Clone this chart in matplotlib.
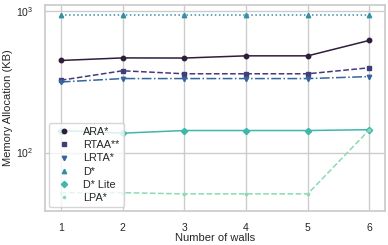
import matplotlib
matplotlib.use("Agg")
import matplotlib.pyplot as plt
from matplotlib.lines import Line2D
import seaborn as sns

walls = [1, 2, 3, 4, 5, 6]
algorithms = ["ARA*", "RTAA**", "LRTA*", "D*", "D* Lite", "LPA*"]
ara = [447, 466, 465, 482, 482, 620]
rtaa = [324, 378, 360, 360, 360, 397]
lrta = [315, 333, 333, 333, 333, 344]
dstar = [940, 940, 940, 940, 940, 940]
dlite = [143, 137, 143, 143, 143, 145]
lpa = [52, 52, 51, 51, 51, 145]

values = [ara, rtaa, lrta, dstar, dlite, lpa]
markers = ["o", "s", "v", "^", "D", "."]
linestyles = ["-", "--", "-.", ":", "-", "--"]

sns.set_theme(style="whitegrid")
plt.rcParams["font.family"] = ["Liberation Sans", "DejaVu Sans"]
colors = sns.color_palette("mako", 6)

fig = plt.figure(figsize=(3.88, 2.45), dpi=100)
ax = fig.add_axes([0.117, 0.14, 0.875, 0.84])

handles = []
for name, vals, m, ls, c in zip(algorithms, values, markers, linestyles, colors):
    ax.plot(walls, vals, marker=m, linestyle=ls, color=c, markersize=3.2, linewidth=1.1)
    handles.append(Line2D([], [], marker=m, linestyle="none", color=c, markersize=3.2, label=name))

ax.set_yscale("log")
ax.set_ylim(38.8, 1104)
ax.minorticks_off()
ax.set_xticks(walls)
ax.tick_params(labelsize=7.5, pad=2.5)
ax.set_xlabel("Number of walls", fontsize=8, labelpad=0.5)
ax.set_ylabel("Memory Allocation (KB)", fontsize=8)
ax.yaxis.set_label_coords(-0.095, 0.5)
ax.legend(handles=handles, loc="lower left", fontsize=7.8, frameon=True,
          handletextpad=0.8, labelspacing=0.3, borderaxespad=0.3)

fig.savefig("out.png", dpi=100)
